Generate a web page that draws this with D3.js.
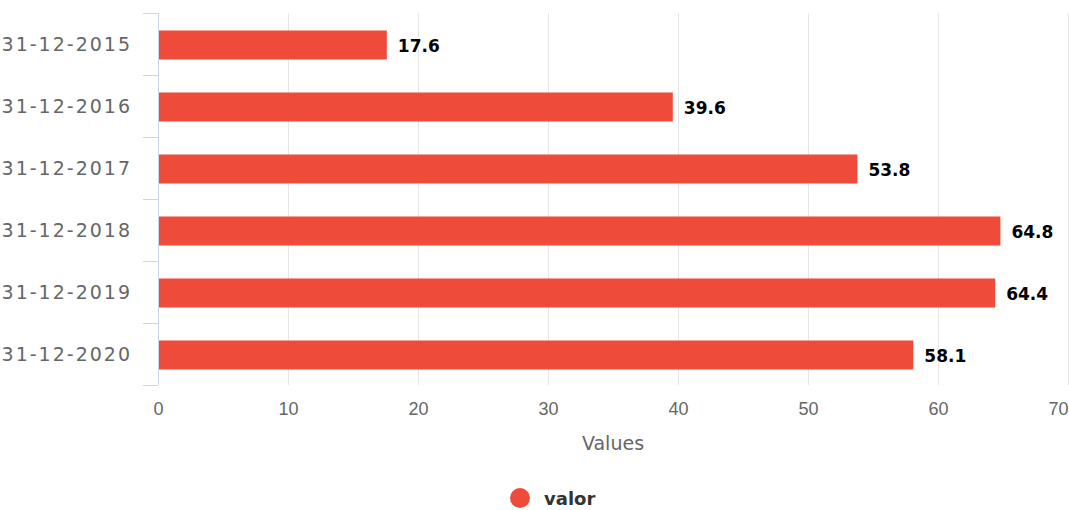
<!DOCTYPE html>
<html lang="en">
  <head>
      <meta charset="UTF-8">
      <title>valor por fecha</title>
      <style>
        body { margin: 0; background: #fff; }
        svg { display: block; font-family: "DejaVu Sans", sans-serif; }
        .grid line { stroke: #e6e6e6; stroke-width: 1; }
        .axis-x path, .axis-x line { display: none; }
        .axis-x text { fill: #666; font-size: 18px; }
        .axis-y line { stroke: #ccd6eb; }
        .axis-y text { fill: #666; font-size: 19px; letter-spacing: 2px; }
        .label { font-weight: bold; font-size: 17px; fill: #000;
                 stroke: #fff; stroke-width: 3px; paint-order: stroke; stroke-linejoin: round; }
      </style>
      <script src="https://d3js.org/d3.v7.min.js"></script>
  </head>
  <body>
    <script>
      const dates = ["31-12-2015", "31-12-2016", "31-12-2017", "31-12-2018", "31-12-2019", "31-12-2020"];
      const valor = [17.6, 39.6, 53.8, 64.8, 64.4, 58.1];
      const xTicks = [0, 10, 20, 30, 40, 50, 60, 70];
      const seriesName = "valor";
      const barColor = "#ee4b3b";

      const width = 1069;
      const height = 510;
      const margin = { top: 13, right: 1, bottom: 125, left: 158 };
      const innerW = width - margin.left - margin.right;
      const innerH = height - margin.top - margin.bottom;

      const svg = d3.select("body")
        .append("svg")
        .attr("width", width)
        .attr("height", height);

      const g = svg.append("g")
        .attr("transform", `translate(${margin.left},${margin.top})`);

      const x = d3.scaleLinear().domain([0, 70]).range([0, innerW]);
      const y = d3.scaleBand().domain(dates).range([0, innerH]);

      // vertical grid lines
      g.append("g")
        .attr("class", "grid")
        .selectAll("line")
        .data(xTicks)
        .enter()
        .append("line")
        .attr("x1", d => Math.round(x(d)) + 0.5)
        .attr("x2", d => Math.round(x(d)) + 0.5)
        .attr("y1", 0)
        .attr("y2", innerH);

      const xAxis = g.append("g")
        .attr("class", "axis-x")
        .attr("transform", `translate(0,${innerH})`)
        .call(d3.axisBottom(x).tickValues(xTicks).tickSize(0).tickPadding(17));
      xAxis.selectAll("text").attr("font-family", null);
      // last label pulled in so it stays on the page
      xAxis.selectAll(".tick")
        .filter(d => d === 70)
        .select("text")
        .attr("text-anchor", "end")
        .attr("x", 0);

      // y axis with ticks between categories
      const yAxis = g.append("g").attr("class", "axis-y");
      yAxis.append("line")
        .attr("x1", 0.5).attr("x2", 0.5)
        .attr("y1", 0).attr("y2", innerH);
      const bounds = dates.map(d => y(d)).concat([innerH]);
      yAxis.selectAll(".tk")
        .data(bounds)
        .enter()
        .append("line")
        .attr("x1", -15).attr("x2", 0)
        .attr("y1", d => Math.round(d) + 0.5)
        .attr("y2", d => Math.round(d) + 0.5);
      yAxis.selectAll("text")
        .data(dates)
        .enter()
        .append("text")
        .attr("x", -26)
        .attr("y", d => y(d) + y.bandwidth() / 2 + 7)
        .attr("text-anchor", "end")
        .text(d => d);

      const barH = 29;
      g.selectAll(".bar")
        .data(valor)
        .enter()
        .append("rect")
        .attr("class", "bar")
        .attr("x", 1)
        .attr("y", (d, i) => y(dates[i]) + y.bandwidth() / 2 - barH / 2 + 1)
        .attr("width", d => x(d) - 1)
        .attr("height", barH)
        .attr("fill", barColor);

      g.selectAll(".label")
        .data(valor)
        .enter()
        .append("text")
        .attr("class", "label")
        .attr("x", d => x(d) + 11)
        .attr("y", (d, i) => y(dates[i]) + y.bandwidth() / 2 + 8)
        .text(d => d.toFixed(1));

      // axis title
      svg.append("text")
        .attr("x", margin.left + innerW / 2)
        .attr("y", 450)
        .attr("text-anchor", "middle")
        .attr("fill", "#666")
        .attr("font-size", "19px")
        .text("Values");

      // legend
      const legend = svg.append("g").attr("transform", "translate(520,498)");
      legend.append("circle").attr("r", 10).attr("fill", barColor);
      legend.append("text")
        .attr("x", 24)
        .attr("y", 7)
        .attr("font-size", "18px")
        .attr("font-weight", "bold")
        .attr("fill", "#333")
        .text(seriesName);
    </script>
  </body>
</html>
